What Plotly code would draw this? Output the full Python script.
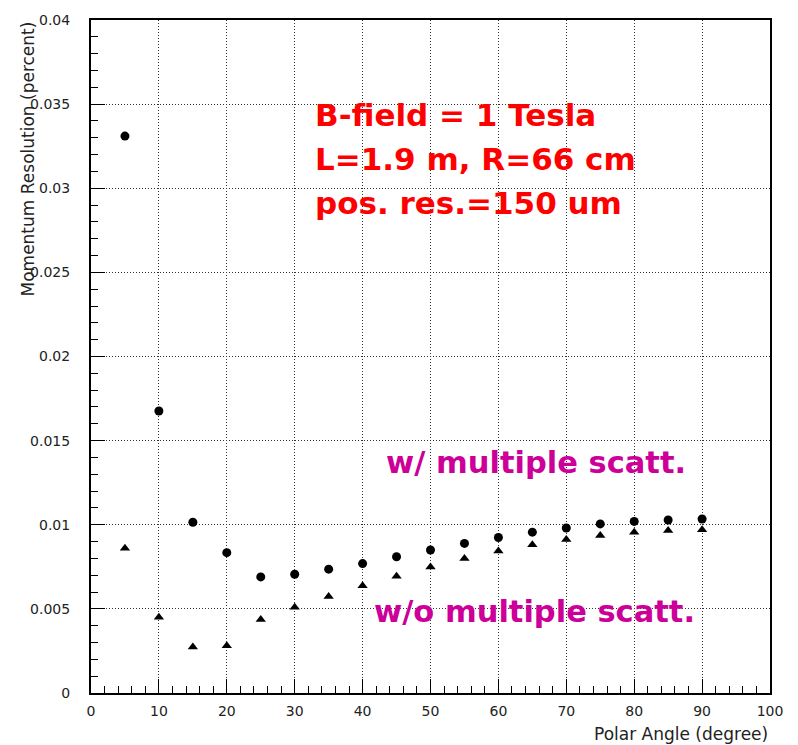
import plotly.graph_objects as go

angles = [5, 10, 15, 20, 25, 30, 35, 40, 45, 50, 55, 60, 65, 70, 75, 80, 85, 90]
with_ms = [0.0331, 0.01676, 0.01015, 0.00834, 0.0069, 0.00706, 0.00736, 0.00769, 0.0081,
           0.0085, 0.00889, 0.00924, 0.00956, 0.00981, 0.01005, 0.0102, 0.01028, 0.01034]
without_ms = [0.0086, 0.0045, 0.00273, 0.00281, 0.00437, 0.00509, 0.00574, 0.00637, 0.00694,
              0.00749, 0.008, 0.00844, 0.00881, 0.00913, 0.00936, 0.00956, 0.00966, 0.0097]
x_ticks = [0, 10, 20, 30, 40, 50, 60, 70, 80, 90, 100]
y_ticks = [0, 0.005, 0.01, 0.015, 0.02, 0.025, 0.03, 0.035, 0.04]
y_labels = ["0", "0.005", "0.01", "0.015", "0.02", "0.025", "0.03", "0.035", "0.04"]

W, H = 798, 745
L, R, T, B = 91, 28, 15, 52

fig = go.Figure()
fig.add_trace(go.Scatter(x=angles, y=with_ms, mode="markers",
                         marker=dict(symbol="circle", size=9, color="black"),
                         name="w/ multiple scatt."))
fig.add_trace(go.Scatter(x=angles, y=without_ms, mode="markers",
                         marker=dict(symbol="triangle-up", size=9, color="black"),
                         name="w/o multiple scatt."))

font = dict(family="DejaVu Sans, sans-serif", size=14, color="#222222")
tfont = dict(family="DejaVu Sans, sans-serif", size=17, color="#222222")

fig.update_xaxes(range=[0, 100], tickvals=x_ticks, ticks="inside", ticklen=14,
                 tickcolor="black", showline=True, linecolor="black", linewidth=2,
                 mirror=True, showgrid=True, gridcolor="#333333", griddash="1px,2px",
                 gridwidth=1, zeroline=False, tickfont=font, ticklabelstandoff=4,
                 minor=dict(dtick=2, ticks="inside", ticklen=7, tickcolor="black",
                            showgrid=False))
fig.update_yaxes(range=[0, 0.04], tickvals=y_ticks, ticktext=y_labels, ticks="inside",
                 ticklen=14, tickcolor="black", showline=True, linecolor="black",
                 linewidth=2, mirror=True, showgrid=True, gridcolor="#333333",
                 griddash="1px,2px", gridwidth=1, zeroline=False, tickfont=font,
                 ticklabelstandoff=16,
                 minor=dict(dtick=0.001, ticks="inside", ticklen=7, tickcolor="black",
                            showgrid=False))

annots = [
    dict(text="Momentum Resolution (percent)", textangle=-90, x=(27 - L) / (W - L - R),
         y=1.0, xanchor="center", yanchor="top", font=tfont),
    dict(text="Polar Angle (degree)", x=1.0, y=-(734 - (H - B)) / (H - T - B),
         xanchor="right", yanchor="middle", font=tfont),
]
for t in annots:
    t.update(xref="paper", yref="paper", showarrow=False)
    fig.add_annotation(**t)

red = dict(family="DejaVu Sans, sans-serif", size=31, color="#ff0000")
for txt, yc in [("<b>B-field = 1 Tesla</b>", 111), ("<b>L=1.9 m, R=66 cm</b>", 155),
                ("<b>pos. res.=150 um</b>", 199)]:
    fig.add_annotation(text=txt, x=(313 - L) / (W - L - R), y=1 - (yc - T) / (H - T - B),
                       xref="paper", yref="paper", xanchor="left", yanchor="middle",
                       showarrow=False, font=red)

mag = dict(family="DejaVu Sans, sans-serif", size=30.5, color="#cc0099")
for txt, xl, yc in [("<b>w/ multiple scatt.</b>", 384, 461), ("<b>w/o multiple scatt.</b>", 372, 611)]:
    fig.add_annotation(text=txt, x=(xl - L) / (W - L - R), y=1 - (yc - T) / (H - T - B),
                       xref="paper", yref="paper", xanchor="left", yanchor="middle",
                       showarrow=False, font=mag)

fig.update_layout(width=W, height=H, margin=dict(l=L, r=R, t=T, b=B),
                  plot_bgcolor="white", paper_bgcolor="white", showlegend=False)

fig.write_html("out.html")
